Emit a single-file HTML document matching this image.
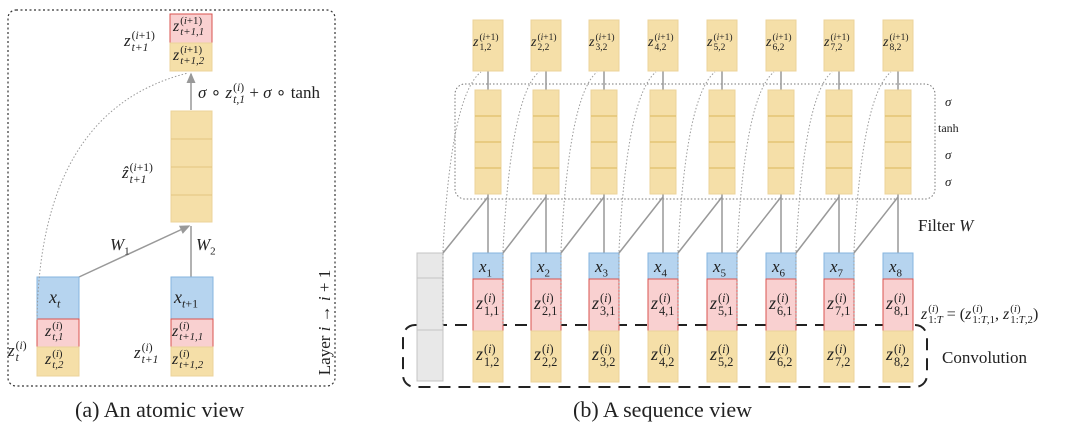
<!DOCTYPE html>
<html><head><meta charset="utf-8"><style>
body{margin:0;width:1080px;height:433px;background:#fff;position:relative;overflow:hidden;font-family:"Liberation Serif",serif;color:#222}
.l{position:absolute;font-family:"Liberation Serif",serif;font-style:italic;white-space:nowrap;line-height:1}
.ss{display:inline-block;vertical-align:middle;font-size:0.68em;line-height:1.05;text-align:left;margin-left:1px}
.ss span{display:block}
.up{font-style:normal}
.cap{position:absolute;font-size:22px;font-family:"Liberation Serif",serif}
</style></head><body>
<svg width="1080" height="433" style="position:absolute;left:0;top:0">
<defs><marker id="a" markerWidth="8" markerHeight="8" refX="6" refY="4" orient="auto"><path d="M0,1 L7,4 L0,7 z" fill="#999"/></marker></defs>
<rect x="8" y="10" width="327" height="376" rx="8" fill="none" stroke="#333" stroke-dasharray="2,2.5" stroke-width="1.2"/>
<rect x="170" y="14" width="42" height="29" fill="#f9d0d0" stroke="#d9534f"/>
<rect x="170" y="43" width="42" height="28" fill="#f5dfa8" stroke="#ecd39a"/>
<line x1="191" y1="110" x2="191" y2="74" stroke="#999" stroke-width="1.5" marker-end="url(#a)"/>
<rect x="171" y="111" width="41" height="111" fill="#f5dfa8" stroke="#ecd39a"/>
<line x1="171" y1="139" x2="212" y2="139" stroke="#e2c47f"/><line x1="171" y1="167" x2="212" y2="167" stroke="#e2c47f"/><line x1="171" y1="195" x2="212" y2="195" stroke="#e2c47f"/>
<line x1="79" y1="277" x2="189" y2="226" stroke="#999" stroke-width="1.5" marker-end="url(#a)"/>
<line x1="191" y1="277" x2="191" y2="226" stroke="#999" stroke-width="1.5"/>
<rect x="37" y="277" width="42" height="42" fill="#b6d4ef" stroke="#86b5df"/>
<rect x="37" y="319" width="42" height="28" fill="#f9d0d0" stroke="#d9534f"/>
<rect x="37" y="347" width="42" height="29" fill="#f5dfa8" stroke="#ecd39a"/>
<rect x="171" y="277" width="42" height="42" fill="#b6d4ef" stroke="#86b5df"/>
<rect x="171" y="319" width="42" height="28" fill="#f9d0d0" stroke="#d9534f"/>
<rect x="171" y="347" width="42" height="29" fill="#f5dfa8" stroke="#ecd39a"/>
<path d="M37 320 Q40 110 188 73" fill="none" stroke="#999" stroke-dasharray="1.5,2"/>
<rect x="455" y="84" width="480" height="115" rx="10" fill="none" stroke="#777" stroke-dasharray="1.5,2"/>
<rect x="403" y="325" width="524" height="62" rx="12" fill="none" stroke="#222" stroke-width="2" stroke-dasharray="12,8"/>
<rect x="417" y="253" width="26" height="128" fill="#e8e8e8" stroke="#c4c4c4"/>
<line x1="417" y1="278" x2="443" y2="278" stroke="#c4c4c4"/><line x1="417" y1="330" x2="443" y2="330" stroke="#c4c4c4"/>
<g id="cols"></g>
</svg>
<script>
var cx=[488,546,604,663,722,781,839,898],g=document.getElementById('cols'),s='';
for(var i=0;i<8;i++){var c=cx[i],pr=i==0?443:cx[i-1]+15;
s+='<line x1="'+c+'" y1="71" x2="'+c+'" y2="90" stroke="#999" stroke-width="1.5"/>';
s+='<line x1="'+c+'" y1="194" x2="'+c+'" y2="253" stroke="#999" stroke-width="1.5"/>';
s+='<line x1="'+c+'" y1="197" x2="'+pr+'" y2="253" stroke="#999" stroke-width="1.5"/>';
s+='<path d="M'+pr+' 325 L'+pr+' 250 Q'+(pr+8)+' 95 '+(c-7)+' 72" fill="none" stroke="#999" stroke-dasharray="1.5,2"/>';
s+='<rect x="'+(c-15)+'" y="20" width="30" height="51" fill="#f5dfa8" stroke="#ecd39a"/>';
s+='<rect x="'+(c-13)+'" y="90" width="26" height="104" fill="#f5dfa8" stroke="#ecd39a"/>';
[116,142,168].forEach(function(y){s+='<line x1="'+(c-13)+'" y1="'+y+'" x2="'+(c+13)+'" y2="'+y+'" stroke="#e0bf6a" stroke-width="1.3"/>';});
s+='<rect x="'+(c-15)+'" y="253" width="30" height="26" fill="#b6d4ef" stroke="#86b5df"/>';
s+='<rect x="'+(c-15)+'" y="279" width="30" height="52" fill="#f9d0d0" stroke="#d9534f"/>';
s+='<rect x="'+(c-15)+'" y="331" width="30" height="51" fill="#f5dfa8" stroke="#ecd39a"/>';}
g.innerHTML=s;
var h='';
for(var i=0;i<8;i++){var c=cx[i],k=i+1;
h+='<div class="l" style="left:'+(c-15)+'px;top:33px;font-size:14px">z<span class="ss"><span class="up">(<i>i</i>+1)</span><span class="up">'+k+',2</span></span></div>';
h+='<div class="l" style="left:'+(c-9)+'px;top:258px;font-size:17px">x<sub style="font-size:11px;font-style:normal">'+k+'</sub></div>';
h+='<div class="l" style="left:'+(c-12)+'px;top:292px;font-size:18px">z<span class="ss"><span class="up">(<i>i</i>)</span><span class="up">'+k+',1</span></span></div>';
h+='<div class="l" style="left:'+(c-12)+'px;top:343px;font-size:18px">z<span class="ss"><span class="up">(<i>i</i>)</span><span class="up">'+k+',2</span></span></div>';}
document.write(h);
</script>
<div class="l" style="left:173px;top:16px;font-size:16px">z<span class="ss"><span class="up">(<i>i</i>+1)</span><span><i>t</i>+1,1</span></span></div>
<div class="l" style="left:173px;top:45px;font-size:16px">z<span class="ss"><span class="up">(<i>i</i>+1)</span><span><i>t</i>+1,2</span></span></div>
<div class="l" style="left:124px;top:30px;font-size:17px">z<span class="ss"><span class="up">(<i>i</i>+1)</span><span><i>t</i>+1</span></span></div>
<div class="l" style="left:198px;top:82px;font-size:17px">σ <span class="up">∘</span> z<span class="ss"><span class="up">(<i>i</i>)</span><span><i>t</i>,1</span></span> <span class="up">+</span> σ <span class="up">∘ tanh</span></div>
<div class="l" style="left:122px;top:162px;font-size:17px">ẑ<span class="ss"><span class="up">(<i>i</i>+1)</span><span><i>t</i>+1</span></span></div>
<div class="l" style="left:110px;top:236px;font-size:17px">W<sub style="font-size:11px;font-style:normal">1</sub></div>
<div class="l" style="left:196px;top:236px;font-size:17px">W<sub style="font-size:11px;font-style:normal">2</sub></div>
<div class="l" style="left:49px;top:288px;font-size:18px">x<sub style="font-size:12px">t</sub></div>
<div class="l" style="left:174px;top:288px;font-size:18px">x<sub style="font-size:12px"><i>t</i><span class="up">+1</span></sub></div>
<div class="l" style="left:45px;top:321px;font-size:16px">z<span class="ss"><span class="up">(<i>i</i>)</span><span><i>t</i>,1</span></span></div>
<div class="l" style="left:45px;top:349px;font-size:16px">z<span class="ss"><span class="up">(<i>i</i>)</span><span><i>t</i>,2</span></span></div>
<div class="l" style="left:172px;top:321px;font-size:16px">z<span class="ss"><span class="up">(<i>i</i>)</span><span><i>t</i>+1,1</span></span></div>
<div class="l" style="left:172px;top:349px;font-size:16px">z<span class="ss"><span class="up">(<i>i</i>)</span><span><i>t</i>+1,2</span></span></div>
<div class="l" style="left:8px;top:340px;font-size:17px">z<span class="ss"><span class="up">(<i>i</i>)</span><span>t</span></span></div>
<div class="l" style="left:134px;top:342px;font-size:17px">z<span class="ss"><span class="up">(<i>i</i>)</span><span><i>t</i>+1</span></span></div>
<div class="l" style="left:272px;top:314px;font-size:17px;font-style:normal;transform:rotate(-90deg);transform-origin:center">Layer <i>i</i> → <i>i</i> + 1</div>
<div class="l" style="left:945px;top:95px;font-size:13px">σ</div>
<div class="l" style="left:938px;top:122px;font-size:12px;font-style:normal">tanh</div>
<div class="l" style="left:945px;top:148px;font-size:13px">σ</div>
<div class="l" style="left:945px;top:175px;font-size:13px">σ</div>
<div class="l" style="left:918px;top:217px;font-size:17px"><span class="up">Filter</span> W</div>
<div class="l" style="left:921px;top:304px;font-size:16px">z<span class="ss"><span class="up">(<i>i</i>)</span><span class="up">1:<i>T</i></span></span> <span class="up">= (</span>z<span class="ss"><span class="up">(<i>i</i>)</span><span class="up">1:<i>T</i>,1</span></span><span class="up">,</span> z<span class="ss"><span class="up">(<i>i</i>)</span><span class="up">1:<i>T</i>,2</span></span><span class="up">)</span></div>
<div class="l" style="left:942px;top:349px;font-size:17px;font-style:normal">Convolution</div>
<div class="cap" style="left:75px;top:397px">(a) An atomic view</div>
<div class="cap" style="left:573px;top:397px">(b) A sequence view</div>
</body></html>
